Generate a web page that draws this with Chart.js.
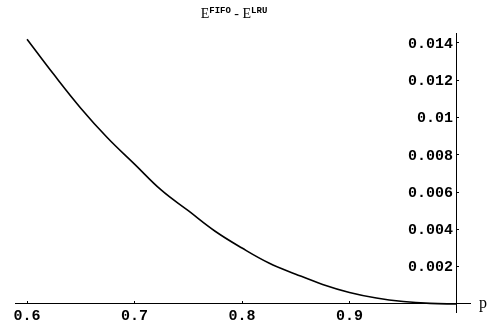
<!DOCTYPE html>
<html>
<head>
<meta charset="utf-8">
<script src="https://cdn.jsdelivr.net/npm/chart.js@4.4.1/dist/chart.umd.min.js"></script>
<style>
  html, body { margin: 0; padding: 0; background: #fff; }
  #wrap { width: 492px; height: 327px; position: relative; }
</style>
</head>
<body>
<div id="wrap"><canvas id="grafik" width="492" height="327"></canvas></div>
<script>
// data
const pValues    = [0.6, 0.625, 0.65, 0.675, 0.7, 0.725, 0.75, 0.775, 0.8, 0.825, 0.85, 0.875, 0.9, 0.925, 0.95, 0.975, 1.0];
const diffValues = [0.0142, 0.0123, 0.0105, 0.0089, 0.0075, 0.0061, 0.0050, 0.0039, 0.0030, 0.0022, 0.0016, 0.00105, 0.00062, 0.00032, 0.00013, 0.00003, 0];

const xTicks = [0.6, 0.7, 0.8, 0.9, 1.0];
const xTickLabels = ['0.6', '0.7', '0.8', '0.9', ''];
const yTicks = [0.002, 0.004, 0.006, 0.008, 0.01, 0.012, 0.014];
const yTickLabels = ['0.002', '0.004', '0.006', '0.008', '0.01', '0.012', '0.014'];

const tickFont = { family: 'Liberation Mono', size: 15, weight: 'bold' };

// judul, label sumbu y dan "p" digambar manual
const teksPlugin = {
  id: 'teks',
  afterDraw(chart) {
    const ctx = chart.ctx;
    const sx = chart.scales.x, sy = chart.scales.y;
    ctx.save();
    ctx.fillStyle = '#000';

    // label sumbu y (di kiri garis sumbu)
    ctx.font = 'bold 15px "Liberation Mono"';
    ctx.textAlign = 'right';
    ctx.textBaseline = 'middle';
    const ax = sx.getPixelForValue(1.0);
    yTicks.forEach((v, i) => ctx.fillText(yTickLabels[i], ax - 4, sy.getPixelForValue(v) + 1));

    // judul dengan superscript
    ctx.textAlign = 'left';
    ctx.textBaseline = 'alphabetic';
    const big = '14px "Liberation Serif"';
    const small = 'bold 9px "Liberation Mono"';
    const parts = [['E', big, 0], ['FIFO', small, -5], [' - ', big, 0], ['E', big, 0], ['LRU', small, -5]];
    let total = 0;
    parts.forEach(p => { ctx.font = p[1]; total += ctx.measureText(p[0]).width; });
    let x = 234 - total / 2;
    parts.forEach(p => {
      ctx.font = p[1];
      ctx.fillText(p[0], x, 18 + p[2]);
      x += ctx.measureText(p[0]).width;
    });

    ctx.font = '16px "Liberation Serif"';
    ctx.fillText('p', chart.chartArea.right + 9, sy.getPixelForValue(0) + 4);
    ctx.restore();
  }
};

new Chart(document.getElementById('grafik'), {
  type: 'line',
  data: {
    datasets: [{
      data: pValues.map((p, i) => ({ x: p, y: diffValues[i] })),
      borderColor: '#000',
      borderWidth: 1.6,
      pointRadius: 0,
      tension: 0.4,
      fill: false
    }]
  },
  options: {
    responsive: false,
    animation: false,
    layout: { padding: { left: 15, right: 22, top: 33, bottom: 15 } },
    plugins: { legend: { display: false }, tooltip: { enabled: false }, title: { display: false } },
    scales: {
      x: {
        type: 'linear',
        min: 0.5888,
        max: 1.0121,
        position: { y: 0 },
        afterBuildTicks: s => { s.ticks = xTicks.map(v => ({ value: v })); },
        ticks: {
          color: '#000',
          font: tickFont,
          padding: 6,
          maxRotation: 0,
          callback: (v, i) => xTickLabels[i]
        },
        grid: { display: true, drawOnChartArea: false, drawTicks: true, tickLength: -3, color: '#000' },
        border: { display: true, color: '#000', width: 1 }
      },
      y: {
        type: 'linear',
        min: -0.00043,
        max: 0.01453,
        position: { x: 1.0 },
        afterBuildTicks: s => { s.ticks = yTicks.map(v => ({ value: v })); },
        ticks: { display: false },
        grid: { display: true, drawOnChartArea: false, drawTicks: true, tickLength: -3, color: '#000' },
        border: { display: true, color: '#000', width: 1 }
      }
    }
  },
  plugins: [teksPlugin]
});
</script>
</body>
</html>
